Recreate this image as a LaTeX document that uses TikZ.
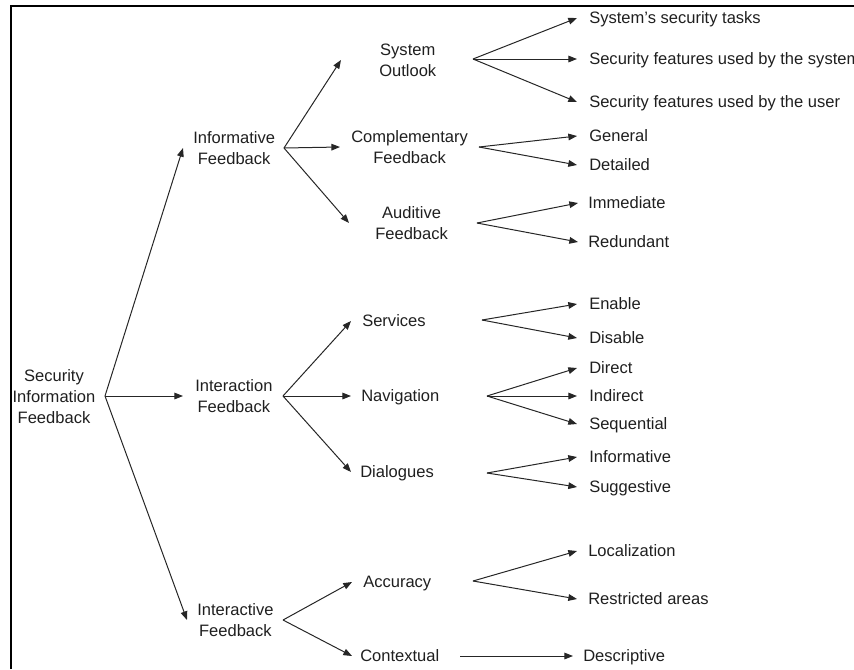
\documentclass[tikz,border=0pt]{standalone}
\usepackage{fontspec}
\setmainfont{Liberation Sans}
\usetikzlibrary{arrows.meta}
\begin{document}
\begin{tikzpicture}[x=0.75pt,y=-0.75pt,
  lbl/.style={font=\fontsize{12.4pt}{15.75pt}\selectfont, align=center,
    inner ysep=0pt, text height=8.9pt, text depth=0pt, anchor=west, text=black!88},
  two/.style={lbl, text height=24.65pt},
  three/.style={lbl, text height=40.4pt},
  leaf/.style={lbl, inner xsep=9pt},
  arr/.style={line width=0.75pt, draw=black!85,
    -{Triangle[length=6.5pt,width=5pt]}},
  frame/.style={line width=0.9pt, draw=black}]
\useasboundingbox (0,0) rectangle (854,669);
\clip (0,0) rectangle (854,669);
\draw[frame] (11,669) -- (11,6) -- (860,6);

% root
\node[three, anchor=center, inner xsep=0pt] (root) at (54,397) {Security\\Information\\Feedback};
\coordinate (b0) at (105,396);

% level 1
\node[two, inner xsep=7.5pt] (info) at (183,148) {Informative\\Feedback};
\node[two, inner xsep=9pt] (inter) at (183,396) {Interaction\\Feedback};
\node[two, inner xsep=7.5pt] (iactive) at (187,620) {Interactive\\Feedback};
\coordinate (binfo) at (284,148);
\coordinate (binter) at (283,396);
\coordinate (bactive) at (283,620);

% level 2
\node[two, inner xsep=28.5pt] (sys) at (341,60) {System\\Outlook};
\node[two, inner xsep=8.25pt] (comp) at (340,147) {Complementary\\Feedback};
\node[two, inner xsep=19.5pt] (aud) at (349,223) {Auditive\\Feedback};
\node[lbl, inner xsep=8.25pt] (serv) at (351,321) {Services};
\node[lbl, inner xsep=7.5pt] (nav) at (351,396) {Navigation};
\node[lbl, inner xsep=6.75pt] (dial) at (351,472) {Dialogues};
\node[lbl, inner xsep=8.25pt] (acc) at (352,582) {Accuracy};
\node[lbl, inner xsep=6pt] (ctx) at (352,656) {Contextual};

\coordinate (bsys) at (473,59);
\coordinate (bcomp) at (479,147);
\coordinate (baud) at (477,223);
\coordinate (bserv) at (482,320);
\coordinate (bnav) at (487,396);
\coordinate (bdial) at (487,473);
\coordinate (bacc) at (473,581);
\coordinate (bctx) at (460,656);

% leaves
\node[leaf] (l1) at (577,18) {System's security tasks};
\node[leaf] (l2) at (577,59) {Security features used by the system};
\node[leaf] (l3) at (577,102) {Security features used by the user};
\node[leaf] (l4) at (577,136) {General};
\node[leaf] (l5) at (577,165) {Detailed};
\node[leaf, inner xsep=7.5pt] (l6) at (578,203) {Immediate};
\node[leaf, inner xsep=7.5pt] (l7) at (578,242) {Redundant};
\node[leaf] (l8) at (577,304) {Enable};
\node[leaf] (l9) at (577,338) {Disable};
\node[leaf] (l10) at (577,368) {Direct};
\node[leaf] (l11) at (577,396) {Indirect};
\node[leaf] (l12) at (577,424) {Sequential};
\node[leaf] (l13) at (577,457) {Informative};
\node[leaf] (l14) at (577,487) {Suggestive};
\node[leaf, inner xsep=8.25pt] (l15) at (577,551) {Localization};
\node[leaf, inner xsep=8.25pt] (l16) at (577,599) {Restricted areas};
\node[leaf, inner xsep=7.5pt] (l17) at (573,656) {Descriptive};

% connectors
\draw[arr] (b0) -- (info.west);
\draw[arr] (b0) -- (inter.west);
\draw[arr] (b0) -- (iactive.west);

\draw[arr] (binfo) -- (sys.west);
\draw[arr] (binfo) -- (comp.west);
\draw[arr] (binfo) -- (aud.west);
\draw[arr] (binter) -- (serv.west);
\draw[arr] (binter) -- (nav.west);
\draw[arr] (binter) -- (dial.west);
\draw[arr] (bactive) -- (acc.west);
\draw[arr] (bactive) -- (ctx.west);

\draw[arr] (bsys) -- (l1.west);
\draw[arr] (bsys) -- (l2.west);
\draw[arr] (bsys) -- (l3.west);
\draw[arr] (bcomp) -- (l4.west);
\draw[arr] (bcomp) -- (l5.west);
\draw[arr] (baud) -- (l6.west);
\draw[arr] (baud) -- (l7.west);
\draw[arr] (bserv) -- (l8.west);
\draw[arr] (bserv) -- (l9.west);
\draw[arr] (bnav) -- (l10.west);
\draw[arr] (bnav) -- (l11.west);
\draw[arr] (bnav) -- (l12.west);
\draw[arr] (bdial) -- (l13.west);
\draw[arr] (bdial) -- (l14.west);
\draw[arr] (bacc) -- (l15.west);
\draw[arr] (bacc) -- (l16.west);
\draw[arr] (bctx) -- (l17.west);
\end{tikzpicture}
\end{document}
